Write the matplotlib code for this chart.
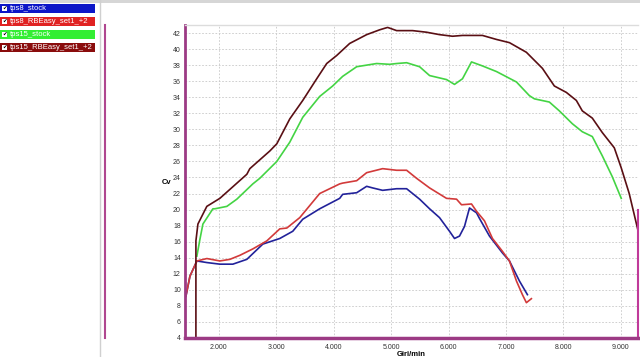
import matplotlib
matplotlib.use("Agg")
import matplotlib.pyplot as plt
from matplotlib.patches import Rectangle
from matplotlib.lines import Line2D
from matplotlib.ticker import FuncFormatter

plt.rcParams["font.family"] = ["Liberation Sans", "DejaVu Sans"]

# series names and colours (legend panel on the left)
series_names = ["tps8_stock", "tps8_RBEasy_set1_+2", "tps15_stock", "tps15_RBEasy_set1_+2"]
legend_colors = ["#0c16c8", "#e02222", "#33ee33", "#8a0c0c"]
line_colors = ["#22229a", "#d23a3a", "#44d444", "#5a0f14"]

# tps8_stock
rpm_8s = [1426, 1496, 1617, 1791, 2017, 2243, 2487, 2765, 3061, 3287, 3461, 3756, 4104, 4156,
          4400, 4574, 4678, 4852, 5096, 5270, 5496, 5670, 5843, 6017, 6104, 6191, 6278, 6365,
          6487, 6539, 6713, 6939, 7061, 7235, 7374]
cv_8s = [9.2, 11.7, 13.6, 13.4, 13.2, 13.2, 13.8, 15.7, 16.4, 17.3, 18.8, 20.1, 21.4, 21.9,
         22.1, 22.9, 22.7, 22.4, 22.6, 22.6, 21.3, 20.1, 19.0, 17.3, 16.4, 16.7, 17.9, 20.2,
         19.6, 18.9, 16.7, 14.6, 13.6, 11.1, 9.4]

# tps8_RBEasy_set1_+2
rpm_8r = [1426, 1496, 1617, 1791, 2017, 2191, 2365, 2591, 2835, 3061, 3183, 3409, 3756, 3930,
          4104, 4156, 4400, 4574, 4852, 5096, 5270, 5443, 5670, 5965, 6139, 6226, 6400, 6487,
          6626, 6765, 6939, 7061, 7183, 7287, 7356, 7443]
cv_8r = [9.2, 11.7, 13.6, 13.9, 13.6, 13.8, 14.3, 15.1, 16.1, 17.6, 17.7, 19.0, 22.0, 22.6,
         23.2, 23.3, 23.6, 24.6, 25.1, 24.9, 24.9, 23.9, 22.7, 21.4, 21.3, 20.6, 20.7, 19.8,
         18.6, 16.4, 14.8, 13.6, 11.1, 9.4, 8.4, 8.9]

# tps15_stock
rpm_15s = [1617, 1670, 1722, 1896, 1930, 2139, 2313, 2591, 2713, 3009, 3235, 3461, 3756, 3982,
           4156, 4400, 4748, 4974, 5096, 5270, 5496, 5670, 5965, 6104, 6243, 6400, 6591, 6835,
           7183, 7408, 7495, 7756, 7930, 8156, 8330, 8504, 8678, 8852, 9008]
cv_15s = [14.2, 16.3, 18.2, 20.1, 20.1, 20.4, 21.3, 23.2, 23.9, 26.0, 28.4, 31.5, 34.1, 35.4,
          36.6, 37.8, 38.2, 38.1, 38.2, 38.3, 37.8, 36.7, 36.2, 35.6, 36.3, 38.4, 37.9, 37.2,
          35.9, 34.2, 33.8, 33.4, 32.3, 30.7, 29.7, 29.1, 26.7, 24.1, 21.4]

# tps15_RBEasy_set1_+2
rpm_15r = [1600, 1600, 1635, 1790, 2017, 2487, 2539, 2887, 3009, 3235, 3461, 3704, 3878, 4052,
           4278, 4574, 4800, 4939, 5096, 5374, 5617, 5843, 6069, 6243, 6591, 6835, 7061, 7356,
           7635, 7843, 8052, 8226, 8330, 8504, 8678, 8887, 9008, 9147, 9300]
cv_15r = [4.0, 16.1, 18.2, 20.4, 21.4, 24.4, 25.1, 27.3, 28.2, 31.3, 33.6, 36.3, 38.2, 39.2,
          40.7, 41.8, 42.4, 42.7, 42.3, 42.3, 42.1, 41.8, 41.6, 41.7, 41.7, 41.2, 40.8, 39.6,
          37.6, 35.4, 34.6, 33.6, 32.3, 31.4, 29.6, 27.7, 25.2, 22.0, 17.4]

x_ticks = [2000, 3000, 4000, 5000, 6000, 7000, 8000, 9000]
y_ticks = list(range(4, 43, 2))

W, H = 640, 357
fig = plt.figure(figsize=(W / 100, H / 100), dpi=100)
fig.patch.set_facecolor("white")

# window chrome
fig.patches.append(Rectangle((0, 1 - 3 / H), 1, 3 / H, transform=fig.transFigure,
                             facecolor="#d6d6d6", edgecolor="none"))
fig.lines.append(Line2D([100 / W, 100 / W], [0, 1], transform=fig.transFigure,
                        color="#d0d0d0", lw=1))
fig.lines.append(Line2D([105 / W, 105 / W], [1 - 338 / H, 1 - 25 / H], transform=fig.transFigure,
                        color="#b04890", lw=1.5))

# legend panel
for i, (name, col) in enumerate(zip(series_names, legend_colors)):
    top = 4 + i * 13
    fig.patches.append(Rectangle((0, 1 - (top + 9) / H), 95 / W, 9 / H, transform=fig.transFigure,
                                 facecolor=col, edgecolor="none"))
    fig.patches.append(Rectangle((2 / W, 1 - (top + 7) / H), 5 / W, 5 / H, transform=fig.transFigure,
                                 facecolor="white", edgecolor="none"))
    fig.text(4.5 / W, 1 - (top + 4.5) / H, "\u2714", fontsize=4, color="black",
             ha="center", va="center", family="DejaVu Sans")
    fig.text(10 / W, 1 - (top + 4.5) / H, name, fontsize=5.5, color="white",
             ha="left", va="center")

ax = fig.add_axes([185 / W, 19 / H, 453 / W, 313 / H])
ax.plot(rpm_8s, cv_8s, color=line_colors[0], lw=1.2)
ax.plot(rpm_8r, cv_8r, color=line_colors[1], lw=1.2)
ax.plot(rpm_15s, cv_15s, color=line_colors[2], lw=1.2)
ax.plot(rpm_15r, cv_15r, color=line_colors[3], lw=1.2)

ax.set_xlim(1410, 9300)
ax.set_ylim(4, 43)
ax.set_xticks(x_ticks)
ax.set_yticks(y_ticks)
ax.xaxis.set_major_formatter(FuncFormatter(lambda v, p: f"{v / 1000:.3f}"))
ax.tick_params(length=0, labelsize=5, labelcolor="#333333")
ax.tick_params(axis="y", pad=3)
ax.tick_params(axis="x", pad=4)
ax.grid(color="#c8c8c8", linestyle=(0, (2, 2)), linewidth=0.6)

ax.spines["left"].set_color("#9c3a84")
ax.spines["left"].set_linewidth(2)
ax.spines["bottom"].set_color("#9c3a84")
ax.spines["bottom"].set_linewidth(2.5)
ax.spines["top"].set_color("#dcdcdc")
ax.spines["top"].set_linewidth(1)
ax.spines["right"].set_visible(False)
ax.plot([1, 1], [0, 0.41], transform=ax.transAxes, color="#c03a9a", lw=1.5, clip_on=False)

fig.text(167 / W, 1 - 183 / H, "Cv", fontsize=5.5, fontweight="bold", ha="center", va="center")
fig.text(411 / W, 1 - 354 / H, "Giri/min", fontsize=5.5, fontweight="bold", ha="center", va="center")

fig.savefig("out.png", dpi=100)
